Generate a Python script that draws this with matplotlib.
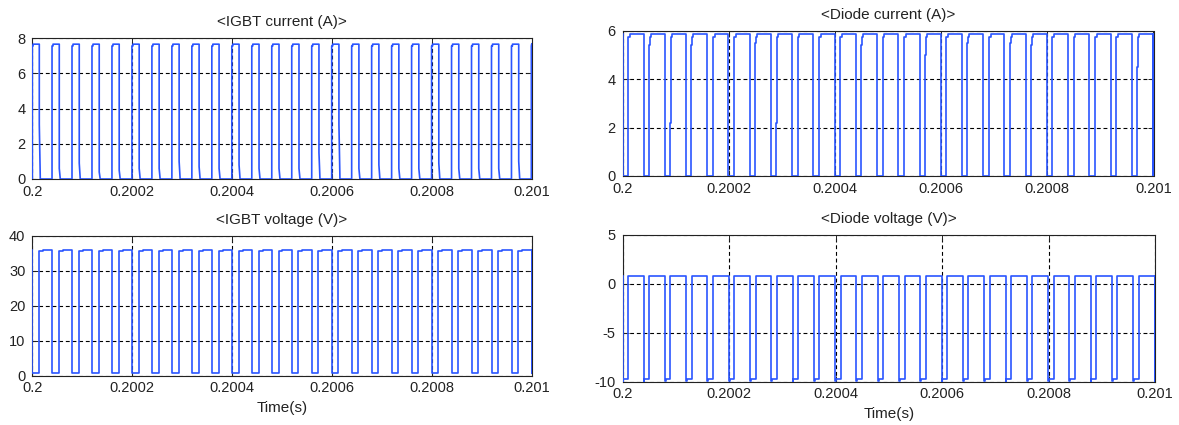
import numpy as np
import matplotlib
matplotlib.use("Agg")
import matplotlib.pyplot as plt

plt.rcParams['font.family'] = ['Liberation Sans', 'DejaVu Sans']

# time axis: microseconds after t = 0.2 s
period_start_us = [0, 40, 80, 120, 160, 200, 240, 280, 320, 360, 400, 440, 480,
                   520, 560, 600, 640, 680, 720, 760, 800, 840, 880, 920, 960, 1000]

# IGBT current: one switching period (offsets in us, values in A)
igbt_i_off = [-0.5, -0.5, 1.5, 1.5, 14.0, 14.0, 16.0]
igbt_i_val = [0.0, 7.55, 7.55, 7.65, 7.65, None, 0.0]
igbt_i_tail = [3.1, 0.6, 0.9, 0.4, 0.5, 0.6, 0.6, 1.0, 0.7, 0.6, 0.8, 0.6, 0.6,
               0.6, 1.5, 3.1, 0.6, 0.8, 0.6, 0.6, 0.9, 0.6, 0.6, 0.6, 1.0, 0.6]

# IGBT voltage (V)
igbt_v_off = [0.0, 0.0, 13.0, 13.0, 21.0, 21.0]
igbt_v_val = [36.0, 0.8, 0.8, 35.7, 35.7, 36.0]

# Diode current (A); first rise step differs from pulse to pulse
diode_i_off = [-0.8, -0.8, 9.5, 9.5, 10.7, 10.7, 13.0, 13.0]
diode_i_val = [5.85, 0.0, 0.0, None, None, 5.75, 5.75, 5.85]
diode_i_step = [5.75, 5.4, 2.2, 5.4, 4.5, 5.75, 5.5, 2.2, 5.75, 4.5, 5.75, 5.4, 5.75,
                5.4, 5.0, 5.75, 5.5, 5.75, 5.5, 5.4, 5.75, 5.75, 5.0, 5.75, 4.5, 5.75]

# Diode voltage (V)
diode_v_off = [-0.8, -0.8, 0.7, 0.7, 9.5, 9.5]
diode_v_val = [0.8, -9.9, -9.9, -9.75, -9.75, 0.8]

x_ticks = [0.2, 0.2002, 0.2004, 0.2006, 0.2008, 0.201]
x_ticklabels = ['0.2', '0.2002', '0.2004', '0.2006', '0.2008', '0.201']


def build(offsets, values, fill=None):
    tt, vv = [], []
    for k, p in enumerate(period_start_us):
        for o, v in zip(offsets, values):
            tt.append(p + o)
            vv.append(fill[k] if v is None else v)
    tt = np.clip(np.array(tt), 0, 1000)
    return 0.2 + tt * 1e-6, np.array(vv)


panels = [
    # rect (px), title, ylim, yticks, yticklabels, data, xlabel
    ([32.3, 38, 531.7, 179], '<IGBT current (A)>', (0, 8), [0, 2, 4, 6, 8],
     ['0', '2', '4', '6', '8'], build(igbt_i_off, igbt_i_val, igbt_i_tail), False),
    ([32.3, 235.7, 531.7, 375.7], '<IGBT voltage (V)>', (0, 40), [0, 10, 20, 30, 40],
     ['0', '10', '20', '30', '40'], build(igbt_v_off, igbt_v_val), True),
    ([622.7, 30.7, 1153.5, 176], '<Diode current (A)>', (0, 6), [0, 2, 4, 6],
     ['0', '2', '4', '6'], build(diode_i_off, diode_i_val, diode_i_step), False),
    ([622.7, 235, 1155, 381.7], '<Diode voltage (V)>', (-10, 5), [-10, -5, 0, 5],
     ['-10', '-5', '0', '5'], build(diode_v_off, diode_v_val), True),
]

W, H = 1179, 425
fig = plt.figure(figsize=(W / 100, H / 100), dpi=100)

for rect, title, ylim, yt, ytl, (t, v), has_xlabel in panels:
    x0, y0, x1, y1 = rect
    ax = fig.add_axes([x0 / W, 1 - y1 / H, (x1 - x0) / W, (y1 - y0) / H])
    ax.grid(True, color='black', linestyle=(0, (3.5, 2.5)), linewidth=0.8)
    ax.set_axisbelow(True)
    ax.plot(t, v, color='#2a55ff', linewidth=1.2, zorder=3)
    ax.set_xlim(0.2, 0.201)
    ax.set_ylim(*ylim)
    ax.set_xticks(x_ticks)
    ax.set_xticklabels(x_ticklabels)
    ax.set_yticks(yt)
    ax.set_yticklabels(ytl)
    ax.tick_params(direction='in', length=4, width=0.7, top=True, right=True,
                   labelsize=10.5, colors='#222222', pad=4)
    ax.tick_params(axis='y', pad=5)
    for s in ax.spines.values():
        s.set_linewidth(0.8)
        s.set_color('#222222')
    ax.set_title(title, fontsize=11, pad=8.5, color='#222222')
    if has_xlabel:
        ax.set_xlabel('Time(s)', fontsize=11, labelpad=4, color='#222222')

fig.savefig('out.png', dpi=100)
